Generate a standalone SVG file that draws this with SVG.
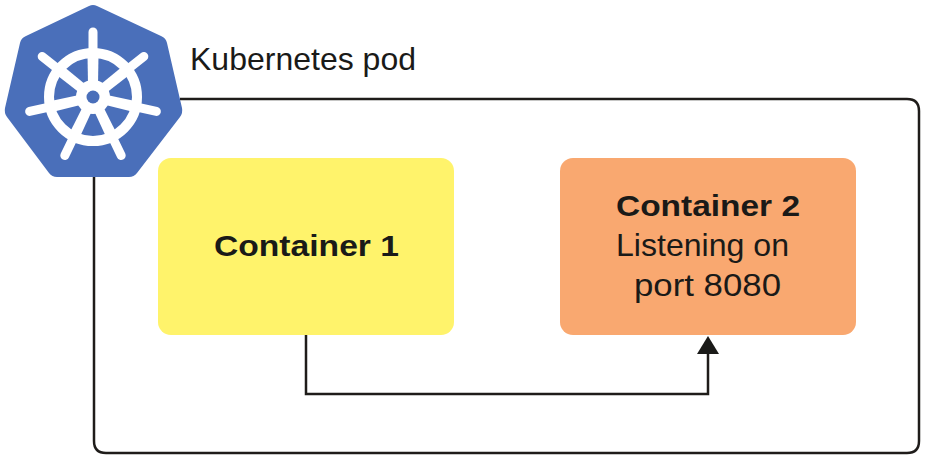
<svg xmlns="http://www.w3.org/2000/svg" xmlns:xlink="http://www.w3.org/1999/xlink" width="927" height="459" viewBox="0 0 927 459">
<style>
text{font-family:"Liberation Sans",Arial,sans-serif;fill:#1a1a18;font-size:31.5px}
.b{font-weight:700;font-size:30px}
.w{stroke:#fff;fill:none;stroke-linecap:round}
.c{fill:none;stroke:#1f1c1a;stroke-width:2.5}
</style>
<defs>
<marker id="a" markerUnits="userSpaceOnUse" markerWidth="22" markerHeight="18" refX="11" refY="18" orient="0"><path d="M0 18L11 0L22 18Z" fill="#1a1a18"/></marker>
<g id="sp"><path d="M-5 -12L-5.5 -42L5.5 -42L5 -12Z" fill="#fff"/><path d="M0 -44V-65" class="w" stroke-width="9"/></g>
</defs>
<rect width="927" height="459" fill="#fff"/>
<g id="pod"><path class="c" d="M180 99H907Q919 99 919 111V441Q919 453 907 453H106Q94 453 94 441V170"/>
<text id="pod-label" x="190" y="70" textLength="226" lengthAdjust="spacingAndGlyphs">Kubernetes pod</text></g>
<g id="logo">
<path d="M93 5Q95 5 97 6L161 36Q166 38 167 43L182 108Q183 113 180 117L137 173Q134 177 129 177H57Q52 177 49 173L7 117Q4 113 5 108L20 43Q21 38 26 36L89 6Q91 5 93 5Z" fill="#4a6fba"/>
<circle cx="93" cy="97" r="44" fill="none" stroke="#fff" stroke-width="10"/>
<g transform="translate(93 97)"><use xlink:href="#sp"/><use xlink:href="#sp" transform="rotate(51.43)"/><use xlink:href="#sp" transform="rotate(102.86)"/><use xlink:href="#sp" transform="rotate(154.29)"/><use xlink:href="#sp" transform="rotate(205.71)"/><use xlink:href="#sp" transform="rotate(257.14)"/><use xlink:href="#sp" transform="rotate(308.57)"/>
<circle r="17" fill="#fff"/><circle r="6.5" fill="#4a6fba"/></g>
</g>
<g id="container1"><rect x="158" y="158" width="296" height="177" rx="13" fill="#fff36b"/>
<text class="b" x="214" y="256" textLength="185" lengthAdjust="spacingAndGlyphs">Container 1</text></g>
<g id="container2"><rect x="560" y="158" width="296" height="177" rx="13" fill="#f9a870"/>
<text class="b" x="616" y="216" textLength="184" lengthAdjust="spacingAndGlyphs">Container 2</text>
<text x="616" y="256" textLength="173" lengthAdjust="spacingAndGlyphs">Listening on</text>
<text x="634" y="296" textLength="147" lengthAdjust="spacingAndGlyphs">port 8080</text></g>
<g id="connectors"><path class="c" d="M306 335V394H708V354" marker-end="url(#a)"/></g>
</svg>
